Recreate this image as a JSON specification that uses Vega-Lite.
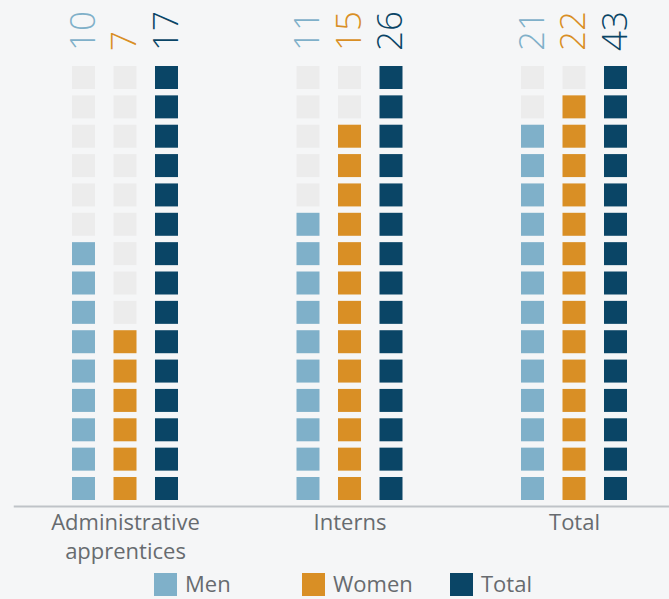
{
  "$schema": "https://vega.github.io/schema/vega-lite/v6.json",
  "autosize": "none",
  "width": 641,
  "height": 506,
  "padding": {"left": 29, "top": 0, "right": 0, "bottom": 93},
  "background": "#f5f6f7",
  "config": {"view": {"stroke": null}, "font": "Open Sans"},
  "layer": [
    {
      "data": {"values": [
      {"g":"A","s":"Men","r":1,"k":"Men"},{"g":"A","s":"Men","r":2,"k":"Men"},{"g":"A","s":"Men","r":3,"k":"Men"},{"g":"A","s":"Men","r":4,"k":"Men"},{"g":"A","s":"Men","r":5,"k":"Men"},{"g":"A","s":"Men","r":6,"k":"Men"},{"g":"A","s":"Men","r":7,"k":"Men"},{"g":"A","s":"Men","r":8,"k":"Men"},{"g":"A","s":"Men","r":9,"k":"Men"},{"g":"A","s":"Men","r":10,"k":"e"},{"g":"A","s":"Men","r":11,"k":"e"},{"g":"A","s":"Men","r":12,"k":"e"},{"g":"A","s":"Men","r":13,"k":"e"},{"g":"A","s":"Men","r":14,"k":"e"},{"g":"A","s":"Men","r":15,"k":"e"},
      {"g":"A","s":"Women","r":1,"k":"Women"},{"g":"A","s":"Women","r":2,"k":"Women"},{"g":"A","s":"Women","r":3,"k":"Women"},{"g":"A","s":"Women","r":4,"k":"Women"},{"g":"A","s":"Women","r":5,"k":"Women"},{"g":"A","s":"Women","r":6,"k":"Women"},{"g":"A","s":"Women","r":7,"k":"e"},{"g":"A","s":"Women","r":8,"k":"e"},{"g":"A","s":"Women","r":9,"k":"e"},{"g":"A","s":"Women","r":10,"k":"e"},{"g":"A","s":"Women","r":11,"k":"e"},{"g":"A","s":"Women","r":12,"k":"e"},{"g":"A","s":"Women","r":13,"k":"e"},{"g":"A","s":"Women","r":14,"k":"e"},{"g":"A","s":"Women","r":15,"k":"e"},
      {"g":"A","s":"Total","r":1,"k":"Total"},{"g":"A","s":"Total","r":2,"k":"Total"},{"g":"A","s":"Total","r":3,"k":"Total"},{"g":"A","s":"Total","r":4,"k":"Total"},{"g":"A","s":"Total","r":5,"k":"Total"},{"g":"A","s":"Total","r":6,"k":"Total"},{"g":"A","s":"Total","r":7,"k":"Total"},{"g":"A","s":"Total","r":8,"k":"Total"},{"g":"A","s":"Total","r":9,"k":"Total"},{"g":"A","s":"Total","r":10,"k":"Total"},{"g":"A","s":"Total","r":11,"k":"Total"},{"g":"A","s":"Total","r":12,"k":"Total"},{"g":"A","s":"Total","r":13,"k":"Total"},{"g":"A","s":"Total","r":14,"k":"Total"},{"g":"A","s":"Total","r":15,"k":"Total"},
      {"g":"I","s":"Men","r":1,"k":"Men"},{"g":"I","s":"Men","r":2,"k":"Men"},{"g":"I","s":"Men","r":3,"k":"Men"},{"g":"I","s":"Men","r":4,"k":"Men"},{"g":"I","s":"Men","r":5,"k":"Men"},{"g":"I","s":"Men","r":6,"k":"Men"},{"g":"I","s":"Men","r":7,"k":"Men"},{"g":"I","s":"Men","r":8,"k":"Men"},{"g":"I","s":"Men","r":9,"k":"Men"},{"g":"I","s":"Men","r":10,"k":"Men"},{"g":"I","s":"Men","r":11,"k":"e"},{"g":"I","s":"Men","r":12,"k":"e"},{"g":"I","s":"Men","r":13,"k":"e"},{"g":"I","s":"Men","r":14,"k":"e"},{"g":"I","s":"Men","r":15,"k":"e"},
      {"g":"I","s":"Women","r":1,"k":"Women"},{"g":"I","s":"Women","r":2,"k":"Women"},{"g":"I","s":"Women","r":3,"k":"Women"},{"g":"I","s":"Women","r":4,"k":"Women"},{"g":"I","s":"Women","r":5,"k":"Women"},{"g":"I","s":"Women","r":6,"k":"Women"},{"g":"I","s":"Women","r":7,"k":"Women"},{"g":"I","s":"Women","r":8,"k":"Women"},{"g":"I","s":"Women","r":9,"k":"Women"},{"g":"I","s":"Women","r":10,"k":"Women"},{"g":"I","s":"Women","r":11,"k":"Women"},{"g":"I","s":"Women","r":12,"k":"Women"},{"g":"I","s":"Women","r":13,"k":"Women"},{"g":"I","s":"Women","r":14,"k":"e"},{"g":"I","s":"Women","r":15,"k":"e"},
      {"g":"I","s":"Total","r":1,"k":"Total"},{"g":"I","s":"Total","r":2,"k":"Total"},{"g":"I","s":"Total","r":3,"k":"Total"},{"g":"I","s":"Total","r":4,"k":"Total"},{"g":"I","s":"Total","r":5,"k":"Total"},{"g":"I","s":"Total","r":6,"k":"Total"},{"g":"I","s":"Total","r":7,"k":"Total"},{"g":"I","s":"Total","r":8,"k":"Total"},{"g":"I","s":"Total","r":9,"k":"Total"},{"g":"I","s":"Total","r":10,"k":"Total"},{"g":"I","s":"Total","r":11,"k":"Total"},{"g":"I","s":"Total","r":12,"k":"Total"},{"g":"I","s":"Total","r":13,"k":"Total"},{"g":"I","s":"Total","r":14,"k":"Total"},{"g":"I","s":"Total","r":15,"k":"Total"},
      {"g":"T","s":"Men","r":1,"k":"Men"},{"g":"T","s":"Men","r":2,"k":"Men"},{"g":"T","s":"Men","r":3,"k":"Men"},{"g":"T","s":"Men","r":4,"k":"Men"},{"g":"T","s":"Men","r":5,"k":"Men"},{"g":"T","s":"Men","r":6,"k":"Men"},{"g":"T","s":"Men","r":7,"k":"Men"},{"g":"T","s":"Men","r":8,"k":"Men"},{"g":"T","s":"Men","r":9,"k":"Men"},{"g":"T","s":"Men","r":10,"k":"Men"},{"g":"T","s":"Men","r":11,"k":"Men"},{"g":"T","s":"Men","r":12,"k":"Men"},{"g":"T","s":"Men","r":13,"k":"Men"},{"g":"T","s":"Men","r":14,"k":"e"},{"g":"T","s":"Men","r":15,"k":"e"},
      {"g":"T","s":"Women","r":1,"k":"Women"},{"g":"T","s":"Women","r":2,"k":"Women"},{"g":"T","s":"Women","r":3,"k":"Women"},{"g":"T","s":"Women","r":4,"k":"Women"},{"g":"T","s":"Women","r":5,"k":"Women"},{"g":"T","s":"Women","r":6,"k":"Women"},{"g":"T","s":"Women","r":7,"k":"Women"},{"g":"T","s":"Women","r":8,"k":"Women"},{"g":"T","s":"Women","r":9,"k":"Women"},{"g":"T","s":"Women","r":10,"k":"Women"},{"g":"T","s":"Women","r":11,"k":"Women"},{"g":"T","s":"Women","r":12,"k":"Women"},{"g":"T","s":"Women","r":13,"k":"Women"},{"g":"T","s":"Women","r":14,"k":"Women"},{"g":"T","s":"Women","r":15,"k":"e"},
      {"g":"T","s":"Total","r":1,"k":"Total"},{"g":"T","s":"Total","r":2,"k":"Total"},{"g":"T","s":"Total","r":3,"k":"Total"},{"g":"T","s":"Total","r":4,"k":"Total"},{"g":"T","s":"Total","r":5,"k":"Total"},{"g":"T","s":"Total","r":6,"k":"Total"},{"g":"T","s":"Total","r":7,"k":"Total"},{"g":"T","s":"Total","r":8,"k":"Total"},{"g":"T","s":"Total","r":9,"k":"Total"},{"g":"T","s":"Total","r":10,"k":"Total"},{"g":"T","s":"Total","r":11,"k":"Total"},{"g":"T","s":"Total","r":12,"k":"Total"},{"g":"T","s":"Total","r":13,"k":"Total"},{"g":"T","s":"Total","r":14,"k":"Total"},{"g":"T","s":"Total","r":15,"k":"Total"}
      ]},
      "mark": {"type": "square", "size": 529, "filled": true, "opacity": 1},
      "encoding": {
        "x": {"field": "g", "type": "nominal",
          "scale": {"domain": ["A", "I", "T"], "range": [-15.75, 657.75], "paddingInner": 0, "paddingOuter": 0},
          "axis": {"title": null, "domain": true, "domainColor": "#bfc3c8", "domainWidth": 2, "ticks": false, "labelAngle": 0, "labelFontSize": 22, "labelColor": "#676b6f", "labelPadding": 6, "labelLineHeight": 29, "labelFont": "Open Sans",
            "labelExpr": "datum.value == 'A' ? ['Administrative', 'apprentices'] : datum.value == 'I' ? 'Interns' : 'Total'"}},
        "xOffset": {"field": "s", "type": "nominal",
          "scale": {"domain": ["Men", "Women", "Total"], "range": [70.25, 153.25], "paddingInner": 0, "paddingOuter": 0}},
        "y": {"field": "r", "type": "quantitative", "scale": {"domain": [0.404, 17.64], "nice": false, "zero": false}, "axis": null},
        "color": {"field": "k", "type": "nominal",
          "scale": {"domain": ["Men", "Women", "Total", "e"], "range": ["#7fb0c9", "#d98f25", "#0a4566", "#ececec"]},
          "legend": {"title": null, "orient": "none", "legendX": 125, "legendY": 573, "direction": "horizontal", "values": ["Men", "Women", "Total"], "symbolType": "square", "symbolSize": 529, "symbolStrokeWidth": 0, "symbolOpacity": 1, "labelFontSize": 22, "labelColor": "#676b6f", "labelFont": "Open Sans", "labelOffset": 8, "columnPadding": 37, "gridAlign": "all", "padding": 0}}
      }
    },
    {
      "data": {"values": [
      {"g":"A","s":"Men","v":10},{"g":"A","s":"Women","v":7},{"g":"A","s":"Total","v":17},
      {"g":"I","s":"Men","v":11},{"g":"I","s":"Women","v":15},{"g":"I","s":"Total","v":26},
      {"g":"T","s":"Men","v":21},{"g":"T","s":"Women","v":22},{"g":"T","s":"Total","v":43}
      ]},
      "mark": {"type": "text", "angle": 270, "align": "left", "baseline": "middle", "fontSize": 35, "fontWeight": 300, "font": "Open Sans"},
      "encoding": {
        "x": {"field": "g", "type": "nominal",
          "scale": {"domain": ["A", "I", "T"], "range": [-15.75, 657.75], "paddingInner": 0, "paddingOuter": 0}},
        "xOffset": {"field": "s", "type": "nominal",
          "scale": {"domain": ["Men", "Women", "Total"], "range": [70.25, 153.25], "paddingInner": 0, "paddingOuter": 0}},
        "y": {"datum": 15.9, "type": "quantitative"},
        "text": {"field": "v", "type": "quantitative"},
        "color": {"field": "s", "type": "nominal", "legend": null}
      }
    }
  ]
}
